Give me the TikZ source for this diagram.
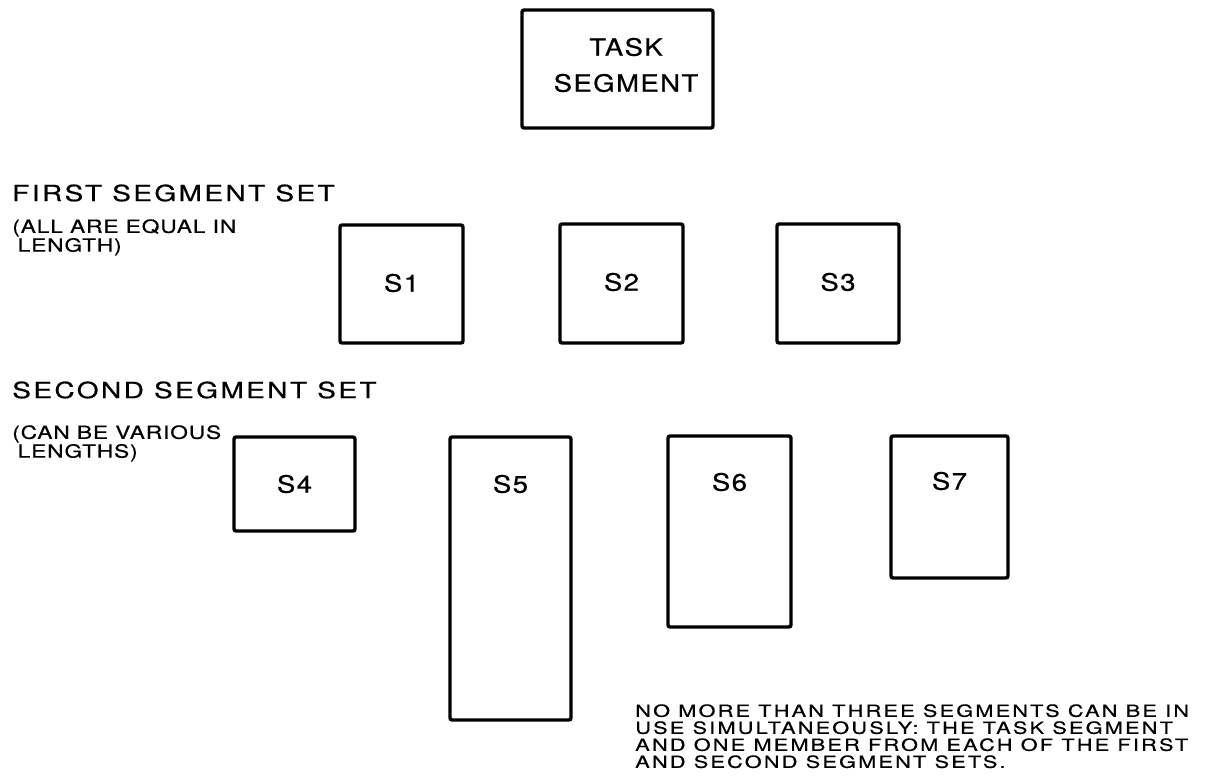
\documentclass[tikz,border=0pt]{standalone}
\usepackage{fontspec}
\setmainfont{TeX Gyre Heros}
\newfontfamily\segfont[FakeStretch=1.15,LetterSpace=6,FakeBold=0.6]{TeX Gyre Heros}
\newfontfamily\headfont[FakeStretch=1.25,LetterSpace=11,FakeBold=0.6]{TeX Gyre Heros}
\newfontfamily\subfont[FakeStretch=1.25,LetterSpace=5,FakeBold=0.6]{TeX Gyre Heros}
\newfontfamily\notefont[FakeStretch=1.3,LetterSpace=13,FakeBold=0.5]{TeX Gyre Heros}

\tikzset{
  segbox/.style={draw, line width=2.4pt, rounded corners=1.5pt},
  seglabel/.style={font=\segfont\fontsize{17pt}{20pt}\selectfont, inner sep=0pt},
  sethead/.style={font=\headfont\fontsize{15.9pt}{19pt}\selectfont, anchor=west, inner sep=0pt},
  setnote/.style={font=\subfont\fontsize{12.9pt}{12pt}\selectfont, anchor=north west, align=left, inner sep=0pt},
}

\begin{document}
\begin{tikzpicture}[x=0.025cm, y=-0.025cm]
\useasboundingbox (0,0) rectangle (1206,778);
% Task segment
\draw[segbox] (522,10) rectangle (713,128);
\node[seglabel, align=center, font=\segfont\fontsize{17pt}{25.6pt}\selectfont] (task) at (626,65) {TASK\\SEGMENT};
% First segment set: equal lengths
\node[sethead] (firsthead) at (12,193) {FIRST SEGMENT SET};
\node[setnote] (firstnote) at (12,219) {(ALL ARE EQUAL IN\\\hspace*{0.3em}LENGTH)};
\foreach \nm/\txt/\xl/\xr/\yt/\yb/\ly in {s1/S1/340/463/225/343/283,
    s2/S2/560/683/224/343/282, s3/S3/777/899/224/343/282} {
  \draw[segbox] (\xl,\yt) rectangle (\xr,\yb);
  \node[seglabel] (\nm) at ({(\xl+\xr)/2},\ly) {\txt};
}
% Second segment set: various lengths
\node[sethead] (secondhead) at (12,390) {SECOND SEGMENT SET};
\node[setnote] (secondnote) at (12,425) {(CAN BE VARIOUS\\\hspace*{0.3em}LENGTHS)};
\foreach \nm/\txt/\xl/\xr/\yt/\yb/\ly in {s4/S4/234/355/437/531/484,
    s5/S5/450/571/437/720/484, s6/S6/668/791/436/627/482,
    s7/S7/891/1008/436/578/481} {
  \draw[segbox] (\xl,\yt) rectangle (\xr,\yb);
  \node[seglabel] (\nm) at ({(\xl+\xr)/2},\ly) {\txt};
}
% Usage rule
\node[font=\notefont\fontsize{11.9pt}{12.1pt}\selectfont, anchor=north west, align=left, inner sep=0pt] (rule) at (635,704)
  {NO MORE THAN THREE SEGMENTS CAN BE IN\\USE SIMULTANEOUSLY: THE TASK SEGMENT\\AND ONE MEMBER FROM EACH OF THE FIRST\\AND SECOND SEGMENT SETS.};
\end{tikzpicture}
\end{document}
